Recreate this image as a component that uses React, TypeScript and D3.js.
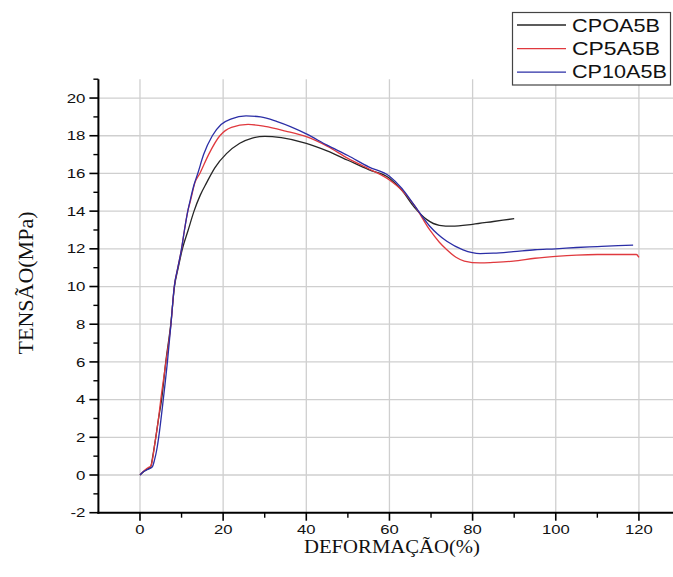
import React from "react";
import * as d3 from "d3";

const seriesNames = ["CPOA5B", "CP5A5B", "CP10A5B"];
const seriesColors = ["#262626", "#e0393e", "#2b2ea6"];

const blackX = [0, 1.0, 2.0, 2.6, 3.0, 3.6, 4.4, 5.2, 6.2, 7.4, 8.3, 9.2, 10.2, 11.6, 13.0, 14.5, 16.0, 18.0, 20.8, 24, 27, 30, 34, 40, 45, 50, 55, 60, 63, 66, 69, 72, 75, 80, 85, 90];
const blackY = [0, 0.2, 0.35, 0.45, 0.9, 1.7, 2.9, 4.0, 6.0, 8.0, 10.0, 11.0, 12.0, 13.0, 14.0, 14.85, 15.5, 16.3, 17.05, 17.6, 17.88, 17.97, 17.9, 17.6, 17.2, 16.7, 16.2, 15.75, 15.1, 14.2, 13.55, 13.25, 13.2, 13.3, 13.45, 13.6];

const redX = [0, 0.4, 1.2, 2.0, 2.5, 2.8, 3.6, 4.4, 5.0, 6.25, 7.45, 8.25, 9.1, 10.0, 10.7, 11.5, 12.2, 13.2, 14.4, 16.5, 19.2, 22, 26, 30, 35, 40, 45, 50, 55, 60, 63, 66, 69.7, 72, 73.8, 76, 78, 81.8, 85, 89.8, 95, 100, 105, 110, 115, 119.4, 120];
const redY = [0, 0.1, 0.27, 0.4, 0.45, 0.6, 1.7, 2.9, 4.0, 6.0, 8.0, 10.0, 11.0, 12.0, 13.0, 14.0, 14.6, 15.5, 16.0, 17.0, 18.0, 18.45, 18.6, 18.5, 18.25, 17.95, 17.45, 16.8, 16.25, 15.65, 15.1, 14.3, 13.0, 12.35, 11.95, 11.55, 11.35, 11.25, 11.28, 11.35, 11.5, 11.6, 11.67, 11.7, 11.7, 11.7, 11.55];

const blueX = [0, 0.8, 1.6, 2.4, 3.0, 3.5, 4.0, 4.5, 5.6, 6.6, 7.45, 8.25, 9.1, 10.0, 10.7, 11.5, 12.1, 13.0, 13.9, 15.3, 17.4, 19.5, 22, 25.5, 29, 33, 40, 45, 50, 55, 60, 63, 66, 69.7, 71.5, 73.8, 77.7, 81.8, 85, 89.8, 95, 100, 105, 110, 115, 118.6];
const blueY = [0, 0.17, 0.27, 0.35, 0.45, 0.8, 1.3, 2.0, 4.0, 6.0, 8.0, 10.0, 11.0, 12.0, 13.0, 14.0, 14.6, 15.4, 16.0, 17.0, 18.0, 18.6, 18.9, 19.05, 19.0, 18.75, 18.1, 17.5, 16.95, 16.35, 15.85, 15.2, 14.3, 13.2, 12.8, 12.4, 11.95, 11.75, 11.77, 11.85, 11.95, 12.0, 12.07, 12.12, 12.17, 12.2];

const xTicks = [0, 20, 40, 60, 80, 100, 120];
const xMinorTicks = [10, 30, 50, 70, 90, 110];
const yTicks = [-2, 0, 2, 4, 6, 8, 10, 12, 14, 16, 18, 20];
const yMinorTicks = [-1, 1, 3, 5, 7, 9, 11, 13, 15, 17, 19, 21];

const xTitle = "DEFORMAÇÃO(%)";
const yTitle = "TENSÃO(MPa)";

export default function App() {
  const W = 673;
  const H = 577;
  const x = d3.scaleLinear().domain([-10, 130]).range([98.4, 680.5]);
  const y = d3.scaleLinear().domain([-2, 21]).range([512.7, 79.2]);
  const x0 = x(-10);
  const y0 = y(-2);
  const yTop = y(21);

  const series = [
    { xs: blackX, ys: blackY },
    { xs: redX, ys: redY },
    { xs: blueX, ys: blueY },
  ];
  const line = d3
    .line<[number, number]>()
    .x((d) => x(d[0]))
    .y((d) => y(d[1]))
    .curve(d3.curveMonotoneX);

  const tickFont = "'Liberation Sans', Arial, sans-serif";
  const serif = "'Liberation Serif', 'Times New Roman', serif";

  return (
    <svg
      width={W}
      height={H}
      style={{ position: "absolute", left: 0, top: 0, background: "#fff" }}
    >
      <rect x={0} y={0} width={W} height={H} fill="#fff" />
      {/* grid */}
      {xTicks.map((t) => (
        <line key={"gx" + t} x1={x(t)} x2={x(t)} y1={yTop} y2={y0} stroke="#cfcfcf" strokeWidth={1.3} />
      ))}
      {yTicks.filter((t) => t > -2).map((t) => (
        <line key={"gy" + t} x1={x0} x2={W} y1={y(t)} y2={y(t)} stroke="#cfcfcf" strokeWidth={1.3} />
      ))}
      {/* curves */}
      {series.map((s, i) => (
        <path
          key={"s" + i}
          d={line(s.xs.map((v, j) => [v, s.ys[j]] as [number, number])) || ""}
          fill="none"
          stroke={seriesColors[i]}
          strokeWidth={1.3}
        />
      ))}
      {/* axes */}
      <line x1={x0} x2={x0} y1={yTop} y2={y0 + 1} stroke="#000" strokeWidth={2} />
      <line x1={x0 - 1} x2={W} y1={y0} y2={y0} stroke="#000" strokeWidth={2} />
      {yTicks.map((t) => (
        <line key={"yt" + t} x1={x0 - 9} x2={x0} y1={y(t)} y2={y(t)} stroke="#000" strokeWidth={1.6} />
      ))}
      {yMinorTicks.map((t) => (
        <line key={"ym" + t} x1={x0 - 5} x2={x0} y1={y(t)} y2={y(t)} stroke="#000" strokeWidth={1.4} />
      ))}
      {xTicks.map((t) => (
        <line key={"xt" + t} x1={x(t)} x2={x(t)} y1={y0} y2={y0 + 8} stroke="#000" strokeWidth={1.6} />
      ))}
      {xMinorTicks.map((t) => (
        <line key={"xm" + t} x1={x(t)} x2={x(t)} y1={y0} y2={y0 + 5} stroke="#000" strokeWidth={1.4} />
      ))}
      {/* tick labels */}
      {yTicks.map((t) => (
        <text
          key={"yl" + t}
          transform={`translate(${x0 - 13},${y(t) + 4.6}) scale(1.35,1)`}
          textAnchor="end"
          fontFamily={tickFont}
          fontSize={12.5}
          fill="#111"
        >
          {String(t)}
        </text>
      ))}
      {xTicks.map((t) => (
        <text
          key={"xl" + t}
          transform={`translate(${x(t)},${533.5}) scale(1.28,1)`}
          textAnchor="middle"
          fontFamily={tickFont}
          fontSize={13}
          fill="#111"
        >
          {String(t)}
        </text>
      ))}
      {/* axis titles */}
      <text
        x={392}
        y={553}
        textAnchor="middle"
        fontFamily={serif}
        fontSize={19}
        textLength={176}
        lengthAdjust="spacingAndGlyphs"
        fill="#111"
      >
        {xTitle}
      </text>
      <text
        transform="translate(33,283) rotate(-90)"
        textAnchor="middle"
        fontFamily={serif}
        fontSize={20}
        textLength={143}
        lengthAdjust="spacingAndGlyphs"
        fill="#111"
      >
        {yTitle}
      </text>
      {/* legend */}
      <rect x={512.5} y={12.5} width={158} height={72.5} fill="#fff" stroke="#444" strokeWidth={1.2} />
      {seriesNames.map((n, i) => (
        <g key={"lg" + i}>
          <line x1={517} x2={566} y1={25 + i * 23.6} y2={25 + i * 23.6} stroke={seriesColors[i]} strokeWidth={1.3} />
          <text
            x={572}
            y={31.8 + i * 23.3}
            fontFamily={tickFont}
            fontSize={18.5}
            textLength={n.length === 6 ? 88 : 95}
            lengthAdjust="spacingAndGlyphs"
            fill="#111"
          >
            {n}
          </text>
        </g>
      ))}
    </svg>
  );
}
